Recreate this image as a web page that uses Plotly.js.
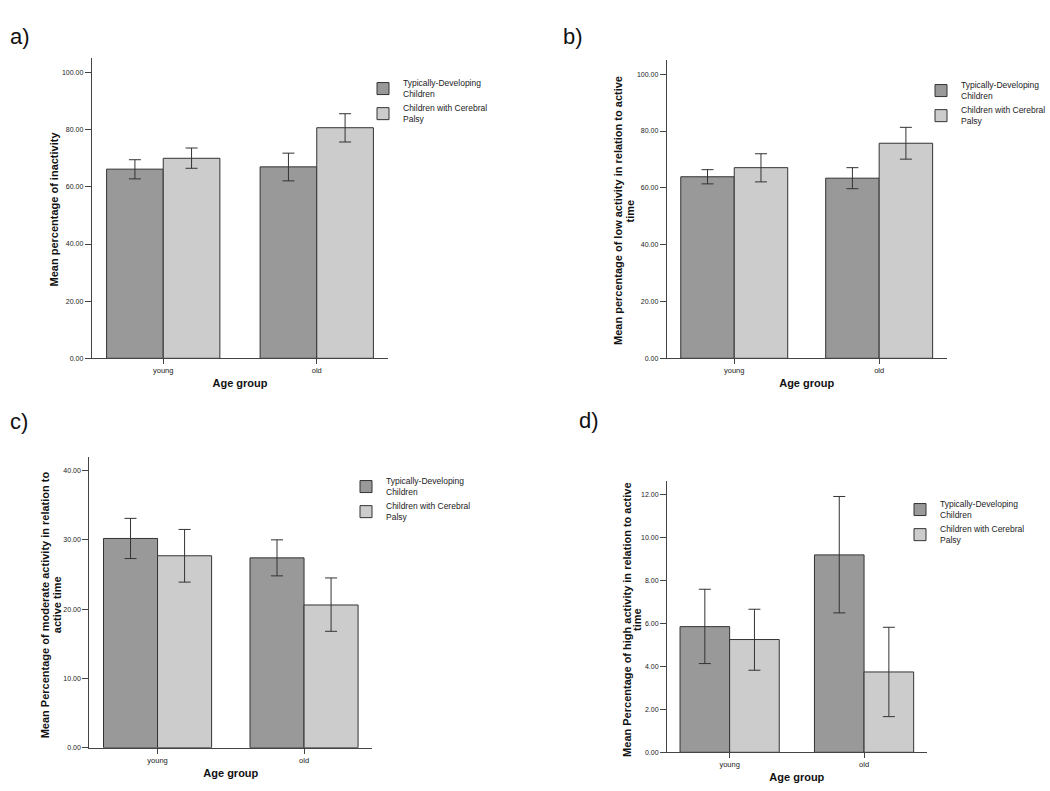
<!DOCTYPE html>
<html><head><meta charset="utf-8">
<script src="https://cdn.plot.ly/plotly-3.0.1.min.js"></script>
<style>html,body{margin:0;padding:0;background:#fff}#chart{width:1050px;height:791px}</style>
</head><body><div id="chart"></div>
<script>
// ---------- data ----------
const ageGroups = ['young', 'old'];
const groupNames = ['Typically-Developing<br>Children', 'Children with Cerebral<br>Palsy'];

// a) inactivity
const inactTD = [66.2, 67.0];
const inactTDLow = [62.8, 62.1];
const inactTDHigh = [69.5, 71.8];
const inactCP = [70.0, 80.7];
const inactCPLow = [66.5, 75.7];
const inactCPHigh = [73.6, 85.6];

// b) low activity
const lowTD = [63.9, 63.4];
const lowTDLow = [61.4, 59.7];
const lowTDHigh = [66.4, 67.1];
const lowCP = [67.1, 75.7];
const lowCPLow = [62.1, 70.1];
const lowCPHigh = [72.0, 81.3];

// c) moderate activity
const modTD = [30.2, 27.4];
const modTDLow = [27.3, 24.8];
const modTDHigh = [33.1, 30.0];
const modCP = [27.7, 20.6];
const modCPLow = [23.9, 16.8];
const modCPHigh = [31.5, 24.5];

// d) high activity
const highTD = [5.85, 9.19];
const highTDLow = [4.13, 6.49];
const highTDHigh = [7.59, 11.91];
const highCP = [5.25, 3.74];
const highCPLow = [3.82, 1.66];
const highCPHigh = [6.66, 5.82];

const panelLabels = ['a)', 'b)', 'c)', 'd)'];
const yTitleLines = [
  ['Mean percentage of inactivity'],
  ['Mean percentage of low activity in relation to active', 'time'],
  ['Mean Percentage of moderate activity in relation to', 'active time'],
  ['Mean Percentage of high activity in relation to active', 'time']
];
const xTitle = 'Age group';

// ---------- styling ----------
const W = 1050, H = 791;
const FONT = 'Liberation Sans, Arial, Helvetica, sans-serif';
const fillColors = ['#999999', '#cccccc'];
const lineCol = '#333333';

function px(x) { return x / W; }
function py(y) { return 1 - y / H; }

// panel boxes in pixels [left, right, top, bottom]
const boxes = [
  [91.7, 388.3, 58, 358.3],
  [666.7, 946.7, 60, 358.3],
  [89.3, 372.3, 456.7, 747.7],
  [667, 926.7, 481, 752.3]
];
const yRanges = [[0, 105.1], [0, 105], [0, 42.0], [0, 12.63]];
const yDticks = [20, 20, 10, 2];
const legendTops = [71, 73, 469, 492];
const legendLefts = [363, 921, 346, 900];
const labelPos = [[8, 37], [561, 36], [8, 421], [577, 420]];
// y-title line centres in pixels: [x of each line], y centre
const yTitleX = [[53], [618, 629.5], [45.3, 57.2], [626.3, 636.3]];
const yTitleY = [209.5, 211, 605, 619.6];

const panels = [
  [[inactTD, inactTDLow, inactTDHigh], [inactCP, inactCPLow, inactCPHigh]],
  [[lowTD, lowTDLow, lowTDHigh], [lowCP, lowCPLow, lowCPHigh]],
  [[modTD, modTDLow, modTDHigh], [modCP, modCPLow, modCPHigh]],
  [[highTD, highTDLow, highTDHigh], [highCP, highCPLow, highCPHigh]]
];

const traces = [];
const layout = {
  width: W, height: H,
  margin: {l: 0, r: 0, t: 0, b: 0, autoexpand: false},
  paper_bgcolor: '#fff', plot_bgcolor: '#fff',
  barmode: 'group', bargap: 0.262, bargroupgap: 0,
  font: {family: FONT, color: '#222'},
  showlegend: true,
  annotations: []
};

panels.forEach((series, i) => {
  const s = i === 0 ? '' : String(i + 1);
  const legendId = 'legend' + s;
  series.forEach((d, k) => {
    const [mean, low, high] = d;
    traces.push({
      type: 'bar',
      x: ageGroups,
      y: mean,
      name: groupNames[k],
      xaxis: 'x' + s, yaxis: 'y' + s,
      legend: legendId,
      marker: {color: fillColors[k], line: {color: lineCol, width: 1}},
      error_y: {
        type: 'data', symmetric: false,
        array: high.map((h, j) => h - mean[j]),
        arrayminus: low.map((l, j) => mean[j] - l),
        color: lineCol, thickness: 1, width: 6
      },
      hoverinfo: 'x+y+name'
    });
  });
  const b = boxes[i];
  layout['xaxis' + s] = {
    domain: [px(b[0]), px(b[1])],
    anchor: 'y' + s,
    type: 'category',
    range: [-0.466, 1.466],
    showline: true, linecolor: '#444', linewidth: 1,
    ticks: 'outside', ticklen: 5, tickcolor: '#444',
    showgrid: false, zeroline: false,
    tickfont: {size: 7.5, color: '#222'},
    title: {text: xTitle, font: {size: 11, weight: 'bold', color: '#111'}, standoff: 5},
    automargin: false,
    fixedrange: true
  };
  layout['yaxis' + s] = {
    domain: [py(b[3]), py(b[2])],
    anchor: 'x' + s,
    range: yRanges[i],
    tick0: 0, dtick: yDticks[i], tickformat: '.2f',
    showline: true, linecolor: '#444', linewidth: 1,
    ticks: 'outside', ticklen: 6, tickcolor: '#444',
    showgrid: false, zeroline: false,
    tickfont: {size: 7, color: '#222'},
    automargin: false,
    fixedrange: true
  };
  layout[legendId] = {
    x: px(legendLefts[i]), xanchor: 'left',
    y: py(legendTops[i]), yanchor: 'top',
    bgcolor: 'rgba(0,0,0,0)', borderwidth: 0,
    font: {size: 8.5, color: '#222', family: FONT},
    itemwidth: 30, tracegroupgap: 0,
    traceorder: 'normal'
  };
  layout.annotations.push({
    xref: 'paper', yref: 'paper',
    x: px(labelPos[i][0]), y: py(labelPos[i][1]),
    xanchor: 'left', yanchor: 'middle',
    text: panelLabels[i], showarrow: false,
    font: {size: 22, color: '#111', family: FONT}
  });
  yTitleLines[i].forEach((line, j) => {
    layout.annotations.push({
      xref: 'paper', yref: 'paper',
      x: px(yTitleX[i][j]), y: py(yTitleY[i]),
      xanchor: 'center', yanchor: 'middle',
      textangle: -90,
      text: line, showarrow: false,
      font: {size: 11, weight: 'bold', color: '#111', family: FONT}
    });
  });
});

Plotly.newPlot('chart', traces, layout, {displayModeBar: false});
</script>
</body></html>
